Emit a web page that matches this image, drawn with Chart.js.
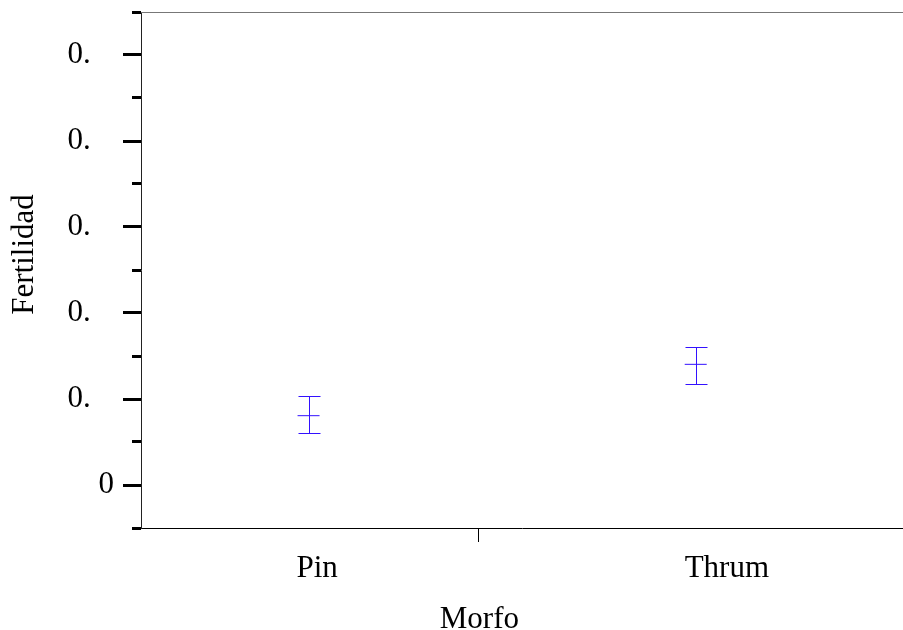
<!DOCTYPE html>
<html>
<head>
<meta charset="utf-8">
<script src="https://cdn.jsdelivr.net/npm/chart.js@4"></script>
<style>
  html, body { margin: 0; padding: 0; background: #fff; overflow: hidden; }
  canvas { display: block; }
</style>
</head>
<body>
<canvas id="c" width="903" height="630"></canvas>
<script>
// Morfo categories and their fertility means with error limits
const categories = ['Pin', 'Thrum'];
const labelPos = [1, 2];
const barPos = [0.979, 1.924];
const means = [0.0806, 0.1403];
const lower = [0.0608, 0.1174];
const upper = [0.1038, 0.1600];
const sepTick = 1.395;
const yTicks = { min: -0.05, max: 0.55, step: 0.05 };

const BLUE = '#3311ff';
const FONT = 'Liberation Serif, Times New Roman, serif';
const FS = 31;

const isMajor = (v) => Math.abs(Math.round(v * 10) - v * 10) < 1e-6;

// error bars: vertical whisker plus caps, from the arrays above
const errorBars = {
  id: 'errorBars',
  afterDatasetsDraw(chart) {
    const { ctx, scales: { x, y }, chartArea } = chart;
    ctx.save();
    // thin grey frame line along the top
    ctx.strokeStyle = '#777';
    ctx.lineWidth = 1;
    ctx.beginPath();
    ctx.moveTo(chartArea.left, Math.round(chartArea.top) + 0.5);
    ctx.lineTo(chartArea.right, Math.round(chartArea.top) + 0.5);
    ctx.stroke();

    ctx.strokeStyle = BLUE;
    barPos.forEach((bx, i) => {
      const px = Math.round(x.getPixelForValue(bx)) + 0.5;
      const top = Math.round(y.getPixelForValue(upper[i])) + 0.5;
      const bot = Math.round(y.getPixelForValue(lower[i])) + 0.5;
      ctx.beginPath();
      ctx.moveTo(px, top); ctx.lineTo(px, bot);
      ctx.moveTo(px - 11, top); ctx.lineTo(px + 11, top);
      ctx.moveTo(px - 11, bot); ctx.lineTo(px + 11, bot);
      ctx.stroke();
    });
    ctx.restore();
  }
};

function draw() {
  new Chart(document.getElementById('c'), {
    type: 'scatter',
    data: {
      datasets: [{
        label: 'Fertilidad',
        data: barPos.map((bx, i) => ({ x: bx, y: means[i] })),
        pointStyle: 'line',
        pointRadius: 11,
        pointHoverRadius: 11,
        borderColor: BLUE,
        borderWidth: 1
      }]
    },
    options: {
      responsive: false,
      animation: false,
      devicePixelRatio: 1,
      layout: { autoPadding: false, padding: { top: 12, right: 0, left: 0, bottom: 0 } },
      plugins: { legend: { display: false }, tooltip: { enabled: false } },
      scales: {
        x: {
          type: 'linear',
          min: 0.57, max: 2.43,
          afterBuildTicks: (s) => { s.ticks = [{ value: labelPos[0] }, { value: sepTick }, { value: labelPos[1] }]; },
          afterFit: (s) => { s.height = 102; s.paddingLeft = 0; s.paddingRight = 0; },
          grid: {
            drawOnChartArea: false,
            tickLength: 14,
            tickWidth: 1,
            tickColor: (ctx) => (ctx.tick && ctx.tick.value === sepTick ? '#000' : 'rgba(0,0,0,0)')
          },
          border: { color: '#000', width: 1 },
          ticks: {
            autoSkip: false,
            maxRotation: 0,
            padding: 8,
            color: '#000',
            font: { family: FONT, size: FS },
            callback: (v) => { const i = labelPos.indexOf(v); return i >= 0 ? categories[i] : ''; }
          },
          title: {
            display: true,
            text: 'Morfo' + ' '.repeat(11),
            color: '#000',
            font: { family: FONT, size: FS },
            padding: { top: 0, bottom: -8 }
          }
        },
        y: {
          min: yTicks.min, max: yTicks.max,
          afterFit: (s) => { s.width = 141; s.paddingTop = 0; s.paddingBottom = 0; },
          grid: {
            drawOnChartArea: false,
            tickLength: 18,
            tickWidth: 3,
            tickColor: '#000',
            tickBorderDash: (ctx) => (ctx.tick && !isMajor(ctx.tick.value) ? [9, 9] : []),
            tickBorderDashOffset: (ctx) => (ctx.tick && !isMajor(ctx.tick.value) ? 9 : 0)
          },
          border: { color: '#222', width: 1 },
          ticks: {
            stepSize: yTicks.step,
            autoSkip: false,
            padding: 9,
            color: '#000',
            font: { family: FONT, size: FS },
            callback: (v) => {
              if (!isMajor(v)) return '';
              return Math.abs(v) < 1e-9 ? '0' : '0.   ';
            }
          },
          title: {
            display: true,
            text: '    Fertilidad',
            color: '#000',
            font: { family: FONT, size: FS },
            padding: { top: 6, bottom: 0 }
          }
        }
      }
    },
    plugins: [errorBars]
  });
}

document.fonts.load(FS + 'px "Liberation Serif"').then(draw, draw);
</script>
</body>
</html>
